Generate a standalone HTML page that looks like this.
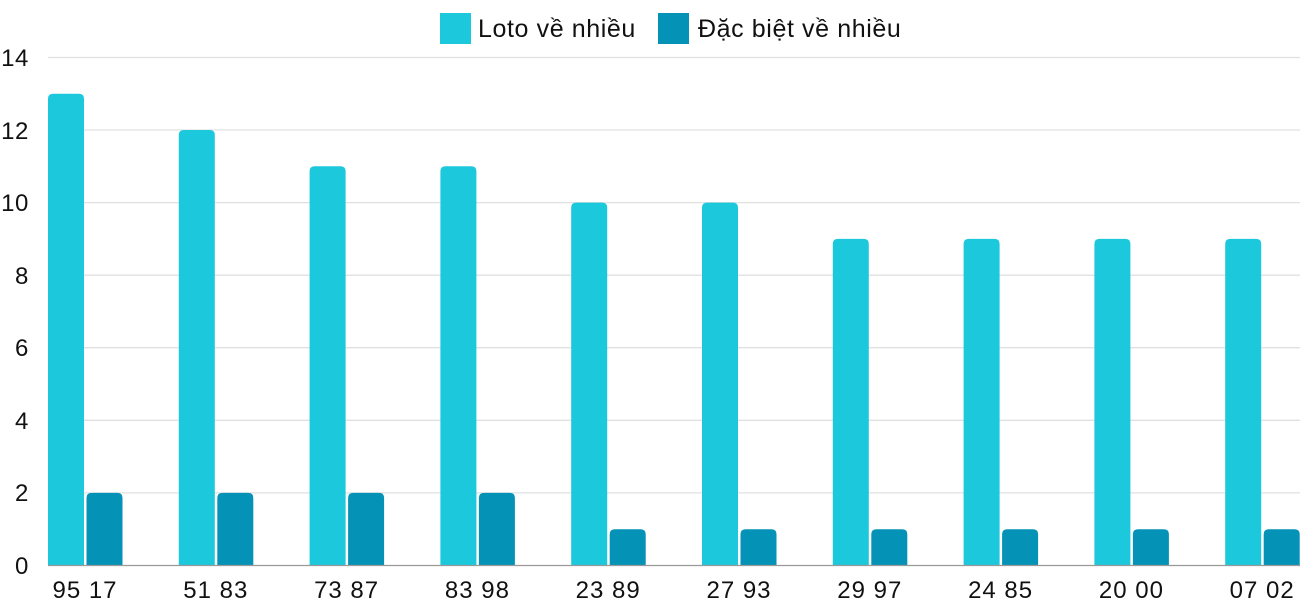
<!DOCTYPE html>
<html><head><meta charset="utf-8"><style>
body{margin:0;background:#fff}
svg text{font-family:"Liberation Sans",sans-serif;fill:#111}
</style></head><body>
<svg width="1300" height="600" xmlns="http://www.w3.org/2000/svg">
<rect x="440" y="13" width="31" height="31" fill="#1bc8dc"/>
<text x="478" y="37" font-size="25" letter-spacing="0.6">Loto về nhiều</text>
<rect x="658" y="13" width="31" height="31" fill="#0492b6"/>
<text x="698" y="37" font-size="25" letter-spacing="0.6">Đặc biệt về nhiều</text>
<g stroke="#e0e0e0" stroke-width="1.3">
<line x1="48" x2="1300" y1="57.5" y2="57.5"/><line x1="48" x2="1300" y1="130" y2="130"/>
<line x1="48" x2="1300" y1="202.6" y2="202.6"/><line x1="48" x2="1300" y1="275.2" y2="275.2"/>
<line x1="48" x2="1300" y1="347.7" y2="347.7"/><line x1="48" x2="1300" y1="420.3" y2="420.3"/>
<line x1="48" x2="1300" y1="492.9" y2="492.9"/>
</g>
<g font-size="24" text-anchor="end" letter-spacing="0.6">
<text x="29" y="66">14</text><text x="29" y="139">12</text><text x="29" y="211">10</text>
<text x="29" y="284">8</text><text x="29" y="356">6</text><text x="29" y="429">4</text>
<text x="29" y="501">2</text><text x="29" y="574">0</text>
</g>
<g id="bars"></g>
<line x1="48" x2="1300" y1="565.5" y2="565.5" stroke="#999" stroke-width="1.3"/>
<g font-size="24" text-anchor="middle" letter-spacing="1" id="labels"></g>
<script>
var L=[13,12,11,11,10,10,9,9,9,9],D=[2,2,2,2,1,1,1,1,1,1],
N=["95 17","51 83","73 87","83 98","23 89","27 93","29 97","24 85","20 00","07 02"],
b=document.getElementById("bars"),t=document.getElementById("labels"),ns="http://www.w3.org/2000/svg";
function bar(x,v,c){var h=v*36.29,y=565.5-h,p=document.createElementNS(ns,"path");
p.setAttribute("d","M"+x+" 565.5V"+(y+5)+"Q"+x+" "+y+" "+(x+5)+" "+y+"H"+(x+31)+"Q"+(x+36)+" "+y+" "+(x+36)+" "+(y+5)+"V565.5Z");
p.setAttribute("fill",c);b.appendChild(p);}
for(var i=0;i<10;i++){var x=48+i*130.8;bar(x,L[i],"#1bc8dc");bar(x+38.5,D[i],"#0492b6");
var e=document.createElementNS(ns,"text");e.setAttribute("x",x+37);e.setAttribute("y",598);e.textContent=N[i];t.appendChild(e);}
</script>
</svg>
</body></html>
